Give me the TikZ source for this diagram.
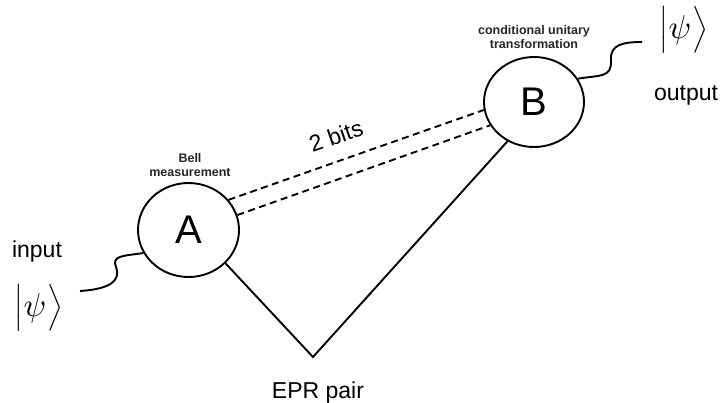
\documentclass[tikz,border=0pt]{standalone}
\usepackage{fontspec}
\setmainfont{Liberation Sans}
\usetikzlibrary{shapes.geometric}
\definecolor{smallgray}{HTML}{262626}
\tikzset{
  party/.style={ellipse, draw, line width=1.9pt, inner sep=0pt, font=\fontsize{40}{44}\selectfont},
  wire/.style={line width=1.9pt},
  classical/.style={line width=1.9pt, dash pattern=on 7pt off 4.5pt},
  caption/.style={font=\fontsize{23}{26}\selectfont, inner sep=0pt},
  tiny/.style={font=\fontsize{12.5}{15}\selectfont\bfseries, text=smallgray, align=center, inner sep=0pt},
  ket/.style={inner sep=0pt}
}
\newcommand{\bigket}{\scalebox{2.6}{$\Bigl|$}\raisebox{-2pt}{\scalebox{3.3}{$\psi$}}\kern1pt\scalebox{2.6}{$\Bigr\rangle$}}
\begin{document}
\begin{tikzpicture}[x=1pt,y=-1pt]
\useasboundingbox (0,0) rectangle (720,402);
\node[party, minimum width=101pt, minimum height=94pt] (A) at (188.5,230) {A};
\node[party, minimum width=100pt, minimum height=90pt] (B) at (534,102) {B};
\coordinate (epr) at (313,357);
\draw[wire, line join=miter] (A.-42) -- (epr) -- (B.236);
\draw[classical] (A.37) -- (B.189);
\draw[classical] (A.17) -- (B.208);
\node[caption, rotate=19] (bits) at (336,136) {2 bits};
\node[tiny] (bell) at (190,165) {Bell\\[-1pt]measurement};
\node[tiny] (cut) at (534,37) {conditional unitary\\[-1pt]transformation};
\node[caption, anchor=base] (epl) at (318,398) {EPR pair};
\node[caption, anchor=base] (inl) at (37,257) {input};
\node[caption, anchor=base] (outl) at (686,100) {output};
\node[ket] (kin) at (39,308) {\bigket};
\node[ket] (kout) at (684,30) {\bigket};
\coordinate (inend) at (80,291);
\coordinate (outend) at (642,42);
\draw[wire] (A.207) .. controls (125,256) and (111,255) .. (116,267) .. controls (121,281) and (110,289) .. (inend);
\draw[wire] (B.28) .. controls (600,75) and (612,78) .. (611,60) .. controls (610,45) and (622,42) .. (outend);
\end{tikzpicture}
\end{document}
